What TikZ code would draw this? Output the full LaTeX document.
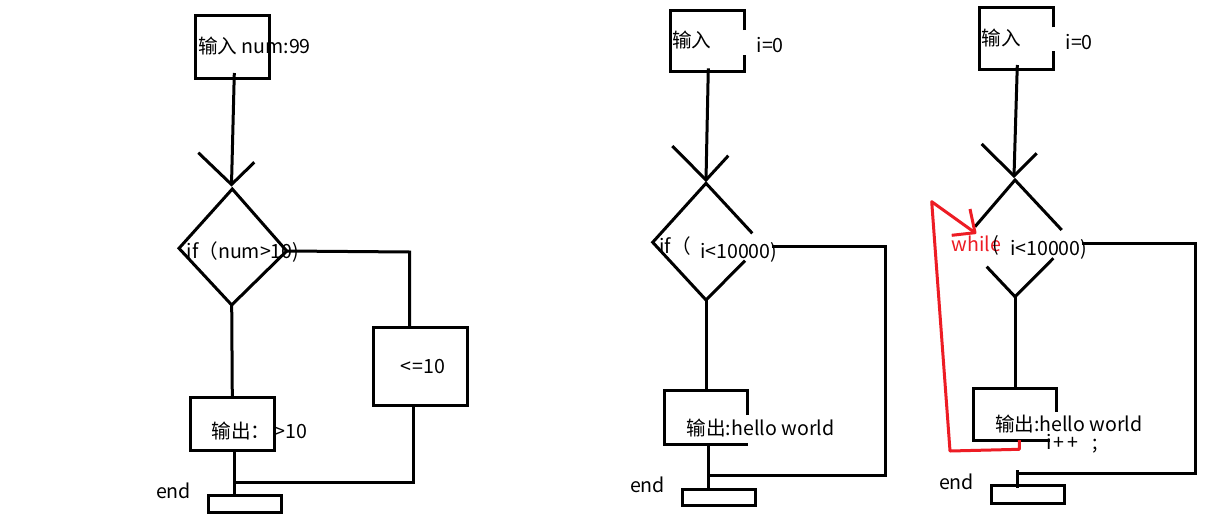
\documentclass[tikz,border=0pt]{standalone}
\usepackage{fontspec}
\setmainfont{Noto Sans CJK SC}
\definecolor{pred}{RGB}{237,28,36}
\tikzset{
  ln/.style={line width=3pt, black, line join=miter},
  rd/.style={line width=3pt, pred, line join=round},
  txt/.style={inner sep=0pt, outer sep=0pt, anchor=base west, font=\fontsize{19.6}{20}\selectfont}
}
\begin{document}
\begin{tikzpicture}[x=1pt,y=-1pt]
\useasboundingbox[fill=white] (0,0) rectangle (1206,514);

% ---------------- diagram 1 ----------------
\node[txt] (t1in) at (198,53) {输入 num:99};
\node[txt] (t1if) at (186.7,258.3) {if（num>10)};
\node[txt] (t1le) at (400,373.3) {<\kern2pt=10};
\node[txt] (t1out) at (211.7,438.3) {输出： >10};
\node[txt] (t1end) at (156,498.3) {end};

\coordinate (d1intl) at (195.7,15.7);
\coordinate (d1inbr) at (269.3,78.3);
\draw[ln] (d1intl) rectangle (d1inbr);
\coordinate (d1a) at (234.3,73);
\coordinate (d1tip) at (231.5,184.5);
\draw[ln] (d1a) -- (d1tip);
\draw[ln] (198.3,152.7) -- (d1tip) -- (254.3,162.3);
\coordinate (d1top) at (232.3,189);
\coordinate (d1left) at (179,248.3);
\coordinate (d1bot) at (231.7,305);
\coordinate (d1right) at (286.7,251);
\draw[ln] (d1top) -- (d1left) -- (d1bot) -- (d1right) -- cycle;
\coordinate (d1r1) at (409.5,252);
\coordinate (d1letop) at (409.5,327.7);
\draw[ln] (d1right) -- (d1r1) -- (d1letop);
\draw[ln] (373.3,327.7) rectangle (467.7,405.7);
\coordinate (d1lebot) at (413.3,405.7);
\coordinate (d1join) at (413.3,482.7);
\coordinate (d1joinL) at (235.5,482.7);
\draw[ln] (d1lebot) -- (d1join) -- (d1joinL);
\coordinate (d1outtop) at (232.3,397.3);
\draw[ln] (d1bot) -- (d1outtop);
\draw[ln] (190,397.3) rectangle (274,450);
\coordinate (d1outbot) at (234.3,450);
\coordinate (d1endtop) at (234.3,497);
\draw[ln] (d1outbot) -- (d1endtop);
\draw[ln] (208.3,495) rectangle (281,512.5);

% ---------------- diagram 2 ----------------
\node[txt] (t2in) at (672.3,47) {输入};
\node[txt] (t2i) at (756.7,52.7) {i=0};
\node[txt] (t2if) at (659.3,253) {if（};
\node[txt] (t2c) at (700,258.3) {i<10000)};
\node[txt] (t2out) at (686.7,435) {输出:hello world};
\node[txt] (t2end) at (630,492.7) {end};

\draw[ln] (744,30) -- (744,10) -- (670,10) -- (670,71.7) -- (744,71.7) -- (744,55);
\coordinate (d2a) at (708.3,68.3);
\coordinate (d2tip) at (706,180);
\draw[ln] (d2a) -- (d2tip);
\draw[ln] (672.3,146) -- (d2tip) -- (728.3,155.7);
\coordinate (d2top) at (706,183.3);
\coordinate (d2bot) at (706,300);
\draw[ln] (752.3,233.3) -- (d2top) -- (652.7,242.3) -- (d2bot) -- (745,260.7);
\coordinate (d2r0) at (771.7,246.7);
\coordinate (d2r1) at (885.7,246.7);
\coordinate (d2r2) at (885.7,475.7);
\coordinate (d2r3) at (708.3,475.7);
\draw[ln] (d2r0) -- (d2r1) -- (d2r2) -- (d2r3);
\coordinate (d2outtop) at (706,390.7);
\draw[ln] (d2bot) -- (d2outtop);
\draw[ln] (747.7,415) -- (747.7,390.7) -- (664,390.7) -- (664,444) -- (747.7,444);
\coordinate (d2outbot) at (708.3,444);
\coordinate (d2endtop) at (708.3,491);
\draw[ln] (d2outbot) -- (d2endtop);
\draw[ln] (682.3,489) rectangle (755,505.7);

% ---------------- diagram 3 ----------------
\node[txt] (t3in) at (981.7,45) {输入};
\node[txt] (t3i) at (1065.7,49.3) {i=0};
\node[txt, text=pred] (t3wh) at (951.7,251.7) {while};
\node[txt] (t3p) at (992,251.7) {(};
\node[txt] (t3c) at (1010,255) {i<10000)};
\node[txt] (t3out) at (995,431.7) {输出:hello world};
\node[txt] (t3inc) at (1046,449.3) {i\kern2pt+\kern3pt+\hspace{14pt};};
\node[txt] (t3end) at (939,489.3) {end};

\draw[ln] (1053.3,27.3) -- (1053.3,7.3) -- (979,7.3) -- (979,69.3) -- (1053.3,69.3) -- (1053.3,51);
\coordinate (d3a) at (1017.3,65);
\coordinate (d3tip) at (1014,176);
\draw[ln] (d3a) -- (d3tip);
\draw[ln] (981.7,144) -- (d3tip) -- (1036.7,153.3);
\coordinate (d3top) at (1015,180);
\coordinate (d3bot) at (1015,296.7);
\draw[ln] (975,226.7) -- (d3top) -- (1061.7,230);
\draw[ln] (986.7,266.7) -- (d3bot) -- (1053.3,258.3);
\coordinate (d3r0) at (1081.7,243.3);
\coordinate (d3r1) at (1195,243.3);
\coordinate (d3r2) at (1195,473.3);
\coordinate (d3r3) at (1017.3,473.3);
\draw[ln] (d3r0) -- (d3r1) -- (d3r2) -- (d3r3);
\coordinate (d3endtop) at (1017.3,488);
\draw[ln] (1017.3,470) -- (d3endtop);
\coordinate (d3outtop) at (1015,388.3);
\draw[ln] (d3bot) -- (d3outtop);
\draw[ln] (1056.7,411.7) -- (1056.7,388.3) -- (973.3,388.3) -- (973.3,440) -- (1050,440);
\draw[ln] (991,485.7) rectangle (1064,503.3);

% red loop arrow
\coordinate (rA) at (1019.3,440);
\coordinate (rB) at (1019.3,449.3);
\coordinate (rC) at (950,451);
\coordinate (rD) at (931.7,201.7);
\coordinate (rtip) at (975,232.7);
\draw[rd] (rA) -- (rB) -- (rC) -- (rD) -- (rtip);
\draw[rd] (970,209) -- (rtip) -- (951.7,235.3);
\end{tikzpicture}
\end{document}
